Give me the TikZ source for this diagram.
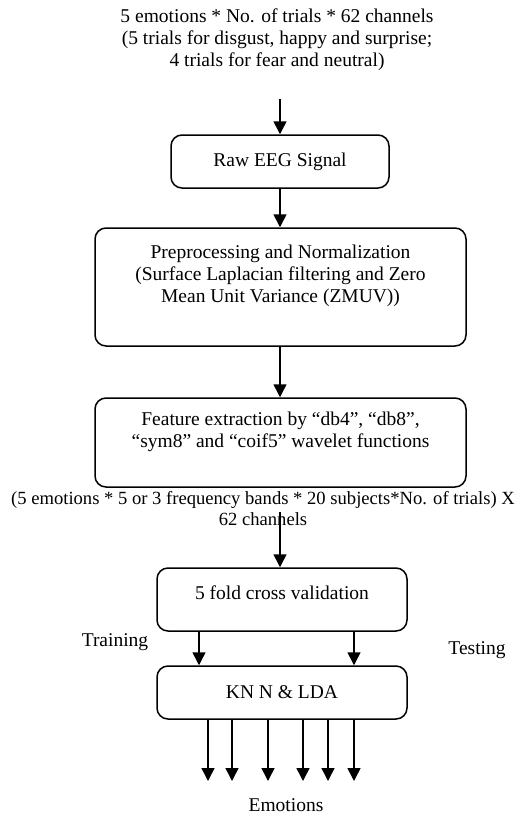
\documentclass[tikz,border=0pt]{standalone}
\usepackage{fontspec}
\setmainfont{Liberation Serif}
\usetikzlibrary{arrows.meta}
\begin{document}
\begin{tikzpicture}[x=1pt,y=-1pt,
  box/.style={draw,line width=1.5pt,rounded corners=11pt,inner sep=0pt},
  txt/.style={align=center,inner sep=0pt,font=\fontsize{19.5}{22}\selectfont},
  arr/.style={line width=1.5pt,-{Triangle[width=13pt,length=13pt]}}]
\useasboundingbox (0,0) rectangle (517,815);
\node[txt] (top) at (277,40) {5 emotions * No. of trials * 62 channels\\(5 trials for disgust, happy and surprise;\\4 trials for fear and neutral)};
\coordinate (in) at (280,99);
\node[box,txt,minimum width=218pt,minimum height=53pt] (raw) at (280,161.5) {Raw EEG Signal};
\node[box,minimum width=371pt,minimum height=118pt] (pre) at (280.5,287) {};
\node[txt] (preT) at (280.5,276) {Preprocessing and Normalization\\(Surface Laplacian filtering and Zero\\Mean Unit Variance (ZMUV))};
\node[box,minimum width=371pt,minimum height=89pt] (fea) at (280.5,442.5) {};
\node[txt] (feaT) at (280.5,431.5) {Feature extraction by “db4”, “db8”,\\“sym8” and “coif5” wavelet functions};
\node[txt,font=\fontsize{18.6}{21}\selectfont] (cap) at (263,509) {(5 emotions * 5 or 3 frequency bands * 20 subjects*No. of trials) X\\62 channels};
\coordinate (capin) at (280,512);
\node[box,minimum width=250pt,minimum height=63pt] (fold) at (282,599.5) {};
\node[txt] (foldT) at (282,593) {5 fold cross validation};
\node[box,txt,minimum width=250pt,minimum height=53pt] (knn) at (282,692.5) {KN N \& LDA};
\node[txt] (trn) at (115,642) {Training};
\node[txt] (tst) at (477,650) {Testing};
\node[txt] (emo) at (286,805) {Emotions};
\draw[arr] (in) -- (raw.north -| in);
\draw[arr] (raw.south -| in) -- (pre.north -| in);
\draw[arr] (pre.south -| in) -- (fea.north -| in);
\draw[arr] (capin) -- (fold.north -| capin);
\coordinate (tr) at (199,0);
\coordinate (ts) at (354,0);
\draw[arr] (fold.south -| tr) -- (knn.north -| tr);
\draw[arr] (fold.south -| ts) -- (knn.north -| ts);
\foreach \x [count=\i] in {208,232,268,303,328,354} {
  \coordinate (o\i) at (\x,781);
  \draw[arr] (knn.south -| o\i) -- (o\i);
}
\end{tikzpicture}
\end{document}
